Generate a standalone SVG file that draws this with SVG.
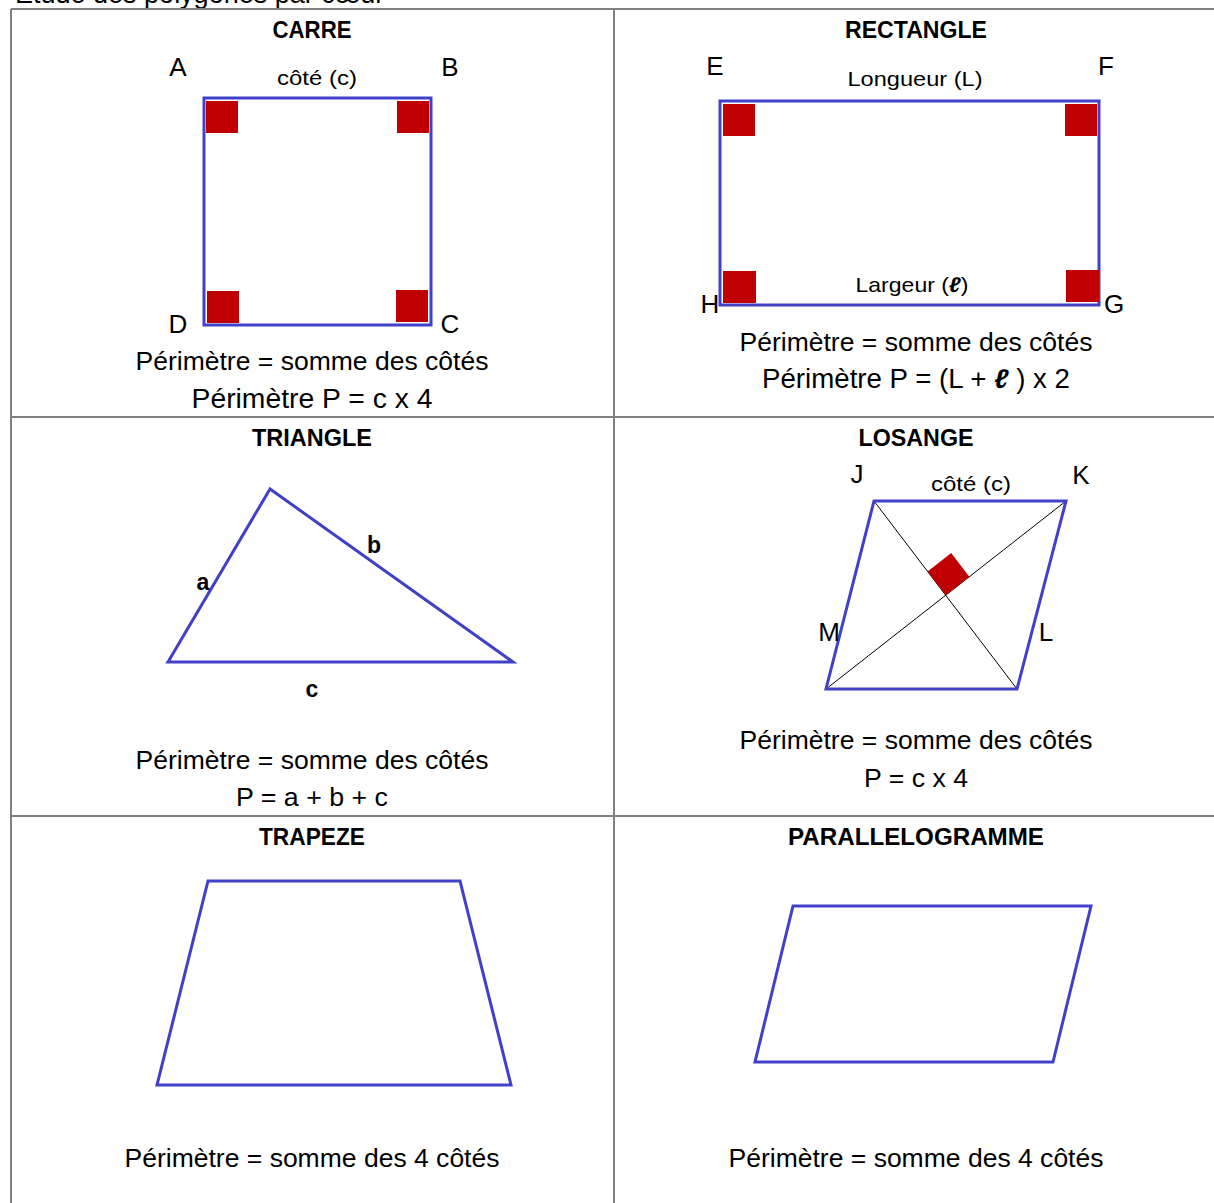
<svg xmlns="http://www.w3.org/2000/svg" width="1214" height="1203" viewBox="0 0 1214 1203">
<style>
  text { font-family: "Liberation Sans", Arial, sans-serif; fill: #000; }
  .t { font-size: 23px; font-weight: bold; text-anchor: middle; }
  .m { font-size: 25px; text-anchor: middle; }
  .big { font-size: 27px; text-anchor: middle; }
  .s { font-size: 21px; text-anchor: middle; }
  .lab { font-size: 26px; text-anchor: middle; }
  .bl { font-size: 23px; font-weight: bold; text-anchor: middle; }
  .grid { stroke: #808080; stroke-width: 2; fill: none; }
  .shape { stroke: #4040c8; stroke-width: 3; fill: none; stroke-linejoin: miter; }
  .diag { stroke: #000; stroke-width: 1; fill: none; }
  .ra { fill: #c00000; }
</style>
<rect width="1214" height="1203" fill="#fff"/>
<text x="15" y="3" font-size="27">Étude des polygones par cœur</text>
<g id="table">
  <line class="grid" x1="11" y1="9" x2="1214" y2="9"/>
  <line class="grid" x1="11" y1="9" x2="11" y2="1203"/>
  <line class="grid" x1="614" y1="9" x2="614" y2="1203"/>
  <line class="grid" x1="11" y1="417" x2="1214" y2="417"/>
  <line class="grid" x1="11" y1="816" x2="1214" y2="816"/>
</g>
<g id="carre">
  <text class="t" x="312" y="38" textLength="79" lengthAdjust="spacingAndGlyphs">CARRE</text>
  <text class="lab" x="178" y="76">A</text>
  <text class="lab" x="450" y="76">B</text>
  <text class="s" x="317" y="85" textLength="80" lengthAdjust="spacingAndGlyphs">côté (c)</text>
  <rect class="shape" x="204" y="98" width="227" height="227"/>
  <rect class="ra" x="206" y="101" width="32" height="32"/>
  <rect class="ra" x="397" y="101" width="32" height="32"/>
  <rect class="ra" x="207" y="291" width="32" height="32"/>
  <rect class="ra" x="396" y="290" width="32" height="32"/>
  <text class="lab" x="178" y="333">D</text>
  <text class="lab" x="450" y="333">C</text>
  <text class="m" x="312" y="370" textLength="353" lengthAdjust="spacingAndGlyphs">Périmètre = somme des côtés</text>
  <text class="big" x="312" y="408" textLength="241" lengthAdjust="spacingAndGlyphs">Périmètre P = c x 4</text>
</g>
<g id="rectangle">
  <text class="t" x="916" y="38" textLength="142" lengthAdjust="spacingAndGlyphs">RECTANGLE</text>
  <text class="lab" x="715" y="75">E</text>
  <text class="lab" x="1106" y="75">F</text>
  <text class="s" x="915" y="86" textLength="135" lengthAdjust="spacingAndGlyphs">Longueur (L)</text>
  <rect class="shape" x="720" y="101" width="379" height="204"/>
  <rect class="ra" x="723" y="104" width="32" height="32"/>
  <rect class="ra" x="1065" y="104" width="32" height="32"/>
  <rect class="ra" x="723" y="271" width="33" height="32"/>
  <rect class="ra" x="1066" y="270" width="33" height="32"/>
  <text class="s" x="912" y="292" textLength="113" lengthAdjust="spacingAndGlyphs">Largeur (<tspan font-weight="bold" font-style="italic">ℓ</tspan>)</text>
  <text class="lab" x="710" y="313">H</text>
  <text class="lab" x="1114" y="313">G</text>
  <text class="m" x="916" y="351" textLength="353" lengthAdjust="spacingAndGlyphs">Périmètre = somme des côtés</text>
  <text class="big" x="916" y="388" textLength="308" lengthAdjust="spacingAndGlyphs">Périmètre P = (L + <tspan font-weight="bold" font-style="italic">ℓ</tspan> ) x 2</text>
</g>
<g id="triangle">
  <text class="t" x="312" y="446" textLength="120" lengthAdjust="spacingAndGlyphs">TRIANGLE</text>
  <polygon class="shape" points="270,489 168,662 513,662"/>
  <text class="bl" x="203" y="590">a</text>
  <text class="bl" x="374" y="553">b</text>
  <text class="bl" x="312" y="697">c</text>
  <text class="m" x="312" y="769" textLength="353" lengthAdjust="spacingAndGlyphs">Périmètre = somme des côtés</text>
  <text class="m" x="312" y="806" textLength="152" lengthAdjust="spacingAndGlyphs">P = a + b + c</text>
</g>
<g id="losange">
  <text class="t" x="916" y="446" textLength="115" lengthAdjust="spacingAndGlyphs">LOSANGE</text>
  <text class="lab" x="857" y="483">J</text>
  <text class="lab" x="1081" y="484">K</text>
  <text class="s" x="971" y="491" textLength="80" lengthAdjust="spacingAndGlyphs">côté (c)</text>
  <line class="diag" x1="874" y1="501" x2="1017" y2="689"/>
  <line class="diag" x1="1066" y1="501" x2="826" y2="689"/>
  <polygon class="ra" points="945.7,595.3 927.6,571.4 951.2,552.9 969.3,576.8"/>
  <polygon class="shape" points="874,501 1066,501 1017,689 826,689"/>
  <text class="lab" x="829" y="641">M</text>
  <text class="lab" x="1046" y="641">L</text>
  <text class="m" x="916" y="749" textLength="353" lengthAdjust="spacingAndGlyphs">Périmètre = somme des côtés</text>
  <text class="m" x="916" y="787" textLength="104" lengthAdjust="spacingAndGlyphs">P = c x 4</text>
</g>
<g id="trapeze">
  <text class="t" x="312" y="845" textLength="106" lengthAdjust="spacingAndGlyphs">TRAPEZE</text>
  <polygon class="shape" points="208,881 460,881 511,1085 157,1085"/>
  <text class="m" x="312" y="1167" textLength="375" lengthAdjust="spacingAndGlyphs">Périmètre = somme des 4 côtés</text>
</g>
<g id="parallelogramme">
  <text class="t" x="916" y="845" textLength="256" lengthAdjust="spacingAndGlyphs">PARALLELOGRAMME</text>
  <polygon class="shape" points="793,906 1091,906 1053,1062 755,1062"/>
  <text class="m" x="916" y="1167" textLength="375" lengthAdjust="spacingAndGlyphs">Périmètre = somme des 4 côtés</text>
</g>
</svg>
